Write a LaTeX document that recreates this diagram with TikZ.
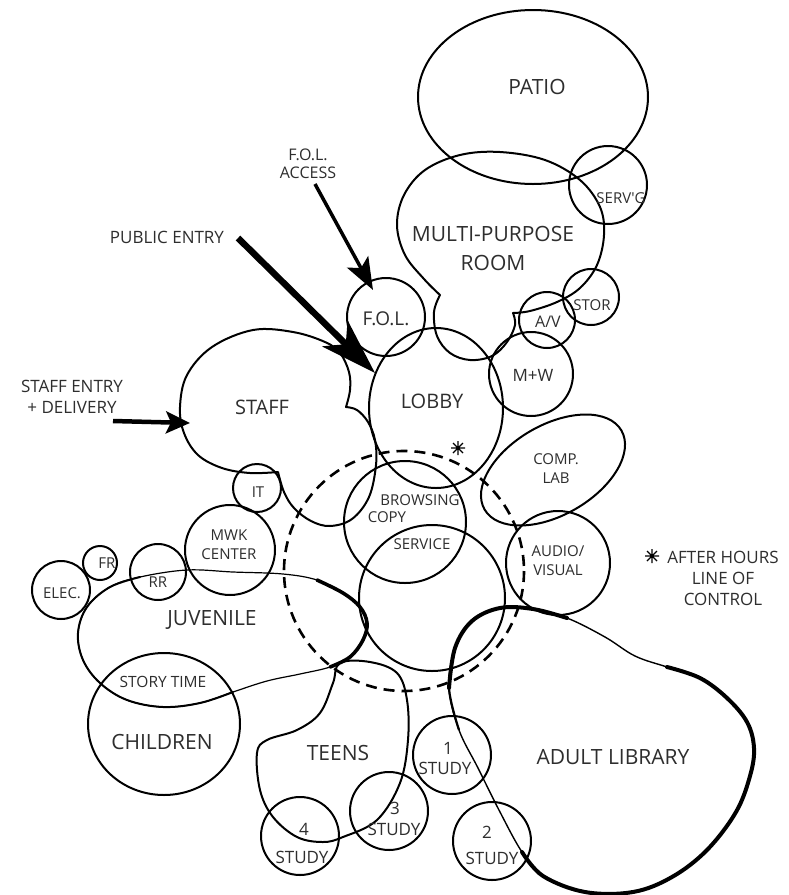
\documentclass[tikz,border=0pt]{standalone}
\usepackage{fontspec}
\setmainfont{Open Sans}
\usetikzlibrary{arrows.meta,shapes.geometric}
\definecolor{txt}{HTML}{2E2E2E}
\tikzset{
 bub/.style={circle,draw,line width=2pt,inner sep=0pt},
 ell/.style={ellipse,draw,line width=2pt,inner sep=0pt},
 big/.style={text=txt,font=\fontsize{21}{29}\selectfont,align=center,inner sep=0pt},
 mid/.style={text=txt,font=\fontsize{17}{21}\selectfont,align=center,inner sep=0pt},
 sml/.style={text=txt,font=\fontsize{15}{19}\selectfont,align=center,inner sep=0pt},
 outl/.style={line width=2pt,line join=round},
 heavy/.style={line width=4pt,line cap=round},
 astpic/.pic={\draw[line width=1.1pt] (-7,0)--(7,0) (0,-7)--(0,7) (-5,-5)--(5,5) (-5,5)--(5,-5);}
}
\begin{document}
\begin{tikzpicture}[x=1pt,y=-1pt]
\fill[white] (0,0) rectangle (788,895);
\useasboundingbox (0,0) rectangle (788,895);

% ---------- upper cluster ----------
\node[ell,minimum width=230pt,minimum height=174pt] (patio) at (533,97) {};
\node[big] (patiot) at (537,87) {PATIO};

\draw[outl] plot[smooth,tension=0.6] coordinates {(440,295) (424,279) (405,255) (397,225) (404,195) (425,170) (460,155) (500,152) (545,160) (580,180) (600,207) (604,235) (597,265) (580,288) (557,302) (530,311) (513,313)}
  -- plot[smooth,tension=0.6] coordinates {(513,313) (515,325) (507,342) (492,356) (470,360) (450,353) (437,336) (434,312) (440,295)} -- cycle;
\node[big] (mpr) at (493,248) {MULTI-PURPOSE\\ROOM};

\node[bub,minimum size=78pt] (servg) at (608,185) {};
\node[sml] (servgt) at (621,198) {SERV\textquotesingle G};
\node[bub,minimum size=56pt] (stor) at (591,297) {};
\node[sml] (stort) at (592,305) {STOR};
\node[bub,minimum size=56pt] (av) at (547,320) {};
\node[sml,font=\fontsize{16}{19}\selectfont] (avt) at (548,322) {A/V};
\node[bub,minimum size=84pt] (mw) at (531,374) {};
\node[mid] (mwt) at (533,375) {M+W};

\node[bub,minimum size=78pt] (fol) at (386,317) {};
\node[big,font=\fontsize{19}{23}\selectfont] (folt) at (386,319) {F.O.L.};

\node[ell,minimum width=134pt,minimum height=160pt] (lobby) at (436,408) {};
\node[big,font=\fontsize{20}{24}\selectfont] (lobbyt) at (432,401) {LOBBY};

% staff
\draw[outl] plot[smooth,tension=0.6] coordinates {(346,407) (357,410) (368,422) (375,440) (376,465) (369,497) (352,519) (330,526) (311,521) (294,508) (284,492) (278,472)}
  -- plot[smooth,tension=0.6] coordinates {(278,472) (250,473) (222,468) (198,455) (184,433) (180,407) (187,375) (212,347) (253,330) (293,332) (325,342) (340,353) (349,372) (350,390) (346,407)} -- cycle;
\node[big,font=\fontsize{20}{24}\selectfont] (stafft) at (262,407) {STAFF};

% entry labels and arrows
\node[mid,font=\fontsize{16}{18}\selectfont] (folacc) at (308,164) {F.O.L.\\ACCESS};
\coordinate (folA) at (315,184);
\coordinate (folB) at (373,290);
\draw[line width=3.5pt,-{Stealth[length=32pt,width=24pt,inset=7pt]}] (folA) -- (folB);

\node[mid] (pubt) at (167,237) {PUBLIC ENTRY};
\coordinate (pubA) at (238,238);
\coordinate (pubB) at (375,373);
\draw[line width=6.5pt,-{Stealth[length=56pt,width=36pt,inset=15pt]}] (pubA) -- (pubB);

\node[mid] (stafent) at (72,396.5) {STAFF ENTRY\\+ DELIVERY};
\coordinate (stA) at (113,421);
\coordinate (stB) at (190,423);
\draw[line width=4.5pt,-{Stealth[length=24pt,width=22pt,inset=5pt]}] (stA) -- (stB);

% ---------- middle ----------
\node[bub,minimum size=48pt] (it) at (257,488) {};
\node[sml] (itt) at (258,492) {IT};
\node[bub,minimum size=90pt] (mwk) at (230,550) {};
\node[sml] (mwkt) at (229,545) {MWK\\CENTER};
\node[bub,minimum size=56pt] (rr) at (158,572) {};
\node[sml] (rrt) at (158,582) {RR};
\node[bub,minimum size=34pt] (fr) at (100,563) {};
\node[sml] (frt) at (107,563) {FR};
\node[bub,minimum size=58pt] (elec) at (61,590) {};
\node[sml] (elect) at (62,593) {ELEC.};

% juvenile
\draw[line width=1.2pt] plot[smooth cycle,tension=0.6] coordinates {(78,633) (87,607) (110,587) (140,577) (187,570) (233,572) (283,574) (317,580) (343,593) (360,607) (367,623) (363,640) (350,657) (330,667) (300,674) (267,681) (233,692) (200,703) (163,707) (127,700) (100,683) (83,660)};
\draw[line width=3.6pt,line cap=round] plot[smooth,tension=0.6] coordinates {(317,580) (343,593) (360,607) (367,623) (363,640) (350,657) (330,667)};
\draw[line width=2pt,line cap=round] plot[smooth,tension=0.6] coordinates {(233,692) (200,703) (163,707) (127,700) (100,683) (83,660) (78,633) (87,607) (110,587) (140,577)};
\node[big] (juvt) at (212,620) {JUVENILE};

\node[ell,minimum width=152pt,minimum height=142pt] (children) at (164,724) {};
\node[sml,font=\fontsize{15.5}{19}\selectfont] (story) at (163,682) {STORY TIME};
\node[big] (childt) at (162,742) {CHILDREN};

% service core
\draw[line width=2.6pt,dash pattern=on 11pt off 7pt] (404,571) circle [radius=120];
\node[bub,minimum size=122pt] (browse) at (405,522) {};
\node[bub,minimum size=146pt] (service) at (432,598) {};
\node[sml] (browt) at (420,500) {BROWSING};
\node[sml] (copyt) at (387,517) {COPY};
\node[sml] (servt) at (422,544) {SERVICE};
\pic at (458,448) {astpic};

\node[ell,minimum width=158pt,minimum height=90pt,rotate=30] (comp) at (553,470) {};
\node[sml] (compt) at (556,469) {COMP.\\LAB};
\node[bub,minimum size=104pt] (audio) at (558,563) {};
\node[sml] (audiot) at (558,561) {AUDIO/\\VISUAL};

\pic at (652,556) {astpic};
\node[mid] (ctrl) at (723,578.5) {AFTER HOURS\\LINE OF\\CONTROL};

% ---------- lower ----------
\draw[outl] plot[smooth cycle,tension=0.6] coordinates {(340,663) (370,662) (397,673) (407,700) (408,740) (400,783) (377,820) (343,837) (323,842) (297,837) (273,817) (260,790) (257,753) (267,740) (297,730) (320,713) (333,683)};
\node[big] (teenst) at (338,753) {TEENS};

\draw[line width=1.4pt] plot[smooth cycle,tension=0.6] coordinates {(449,688) (455,648) (472,621) (500,608) (533,609) (567,618) (605,637) (635,656) (667,667) (700,678) (727,698) (747,722) (754,748) (750,776) (736,812) (707,850) (672,877) (633,892) (585,892) (543,876) (522,852) (500,812) (478,768) (459,730)};
\draw[heavy] plot[smooth,tension=0.6] coordinates {(449,688) (455,648) (472,621) (500,608) (533,609) (567,618)};
\draw[heavy] plot[smooth,tension=0.6] coordinates {(667,667) (700,678) (727,698) (747,722) (754,748) (750,776) (736,812) (707,850) (672,877) (633,892) (585,892) (543,876) (522,852)};
\draw[line width=2.2pt] plot[smooth,tension=0.6] coordinates {(459,730) (449,688) (455,648)};
\node[big] (adultt) at (613,757) {ADULT LIBRARY};

\node[bub,minimum size=78pt] (s1) at (452,755) {};
\node[mid] (s1n) at (448,748) {1};
\node[mid] (s1t) at (445,768) {STUDY};
\node[bub,minimum size=78pt] (s2) at (492,841) {};
\node[mid] (s2n) at (487,832) {2};
\node[mid] (s2t) at (492,858) {STUDY};
\node[bub,minimum size=78pt] (s3) at (389,811) {};
\node[mid] (s3n) at (395,808) {3};
\node[mid] (s3t) at (394,829) {STUDY};
\node[bub,minimum size=78pt] (s4) at (300,836) {};
\node[mid] (s4n) at (304,829) {4};
\node[mid] (s4t) at (302,857) {STUDY};
\end{tikzpicture}
\end{document}
